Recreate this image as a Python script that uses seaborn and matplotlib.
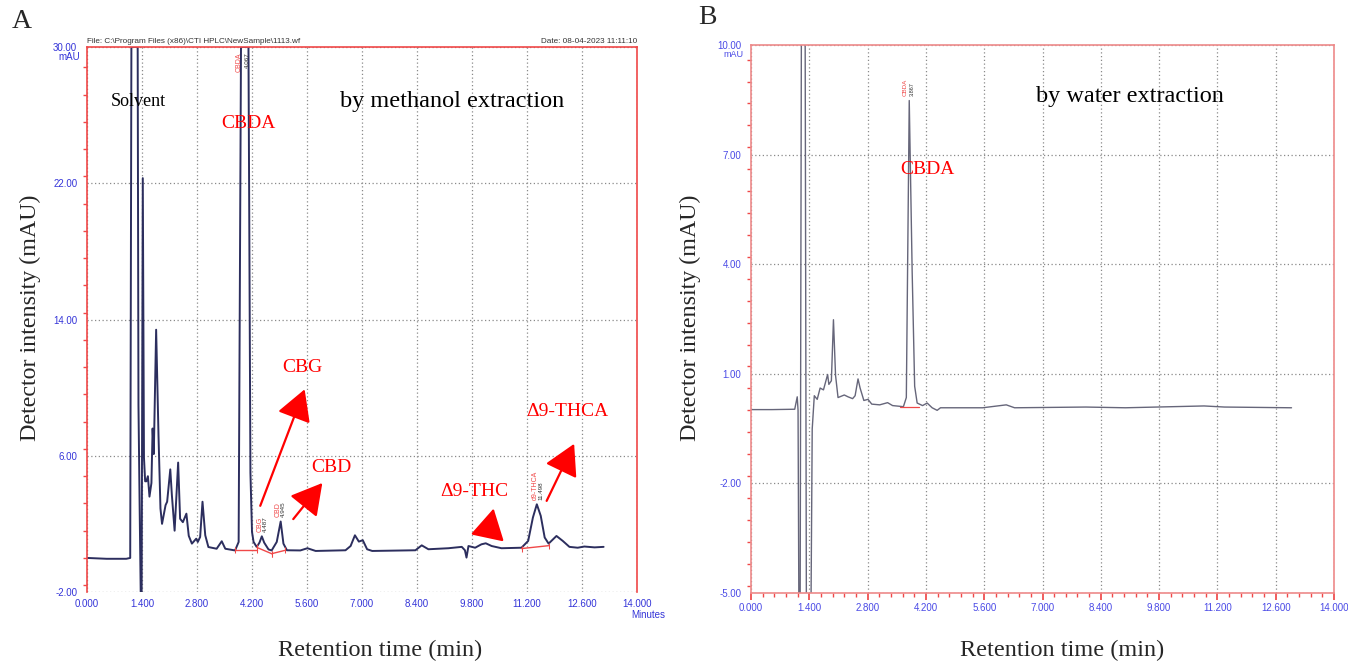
import numpy as np
import pandas as pd
import seaborn as sns
import matplotlib.pyplot as plt
from matplotlib.ticker import MultipleLocator

# Panel A: methanol extraction chromatogram (time in min, signal in mAU)
a_time = [0.00, 0.50, 1.00, 1.10, 1.13, 1.29, 1.31, 1.34, 1.37, 1.39, 1.42, 1.45, 1.48,
          1.51, 1.55, 1.59, 1.64, 1.67, 1.70, 1.76, 1.82, 1.87, 1.91, 2.00, 2.04, 2.12,
          2.16, 2.23, 2.32, 2.37, 2.44, 2.53, 2.59, 2.67, 2.78, 2.82, 2.88, 2.94, 3.01,
          3.09, 3.30, 3.43, 3.52, 3.77, 3.86, 3.92, 4.11, 4.16, 4.20, 4.24, 4.32, 4.39,
          4.45, 4.51, 4.62, 4.70, 4.83, 4.93, 5.00, 5.09, 5.43, 5.61, 5.82, 6.58, 6.71,
          6.82, 6.92, 7.02, 7.13, 7.26, 8.36, 8.52, 8.69, 9.20, 9.54, 9.62, 9.66, 9.71,
          9.88, 10.04, 10.15, 10.30, 10.55, 11.06, 11.23, 11.35, 11.45, 11.55, 11.65,
          11.75, 11.95, 12.11, 12.28, 12.49, 12.66, 12.92, 13.15]
a_signal = [0.00, -0.05, -0.05, 0.00, 30.0, 30.0, 9.0, 3.0, -2.6, -2.6, 22.3, 5.9, 4.5,
            4.5, 4.8, 3.6, 4.4, 7.6, 6.1, 13.4, 7.2, 2.9, 2.0, 3.1, 3.3, 5.2,
            3.7, 1.6, 5.6, 2.3, 2.1, 2.6, 1.3, 0.84, 1.13, 0.94, 1.23, 3.3, 1.33,
            0.64, 0.54, 0.98, 0.54, 0.44, 0.94, 30.0, 30.0, 5.0, 1.53, 0.94, 0.64, 0.90,
            1.27, 0.90, 0.50, 0.44, 0.94, 2.14, 0.84, 0.45, 0.44, 0.57, 0.41, 0.45, 0.70,
            1.33, 0.96, 1.04, 0.51, 0.41, 0.45, 0.74, 0.51, 0.57, 0.65, 0.45, 0.02, 0.70,
            0.60, 0.80, 0.86, 0.70, 0.57, 0.60, 1.00, 2.37, 3.15, 2.47, 1.20,
            0.84, 1.29, 1.00, 0.65, 0.60, 0.67, 0.62, 0.65]

# integration baselines drawn by the software (red)
a_base_time = [[3.77, 4.32], [4.32, 4.70], [4.70, 5.05], [11.06, 11.75]]
a_base_signal = [[0.45, 0.45], [0.62, 0.25], [0.25, 0.45], [0.55, 0.72]]

# Panel B: water extraction chromatogram
b_time = [0.00, 0.50, 1.05, 1.11, 1.13, 1.15, 1.18, 1.21, 1.30, 1.33, 1.44, 1.47, 1.52,
          1.59, 1.66, 1.74, 1.84, 1.87, 1.93, 1.98, 2.03, 2.09, 2.24, 2.33, 2.44, 2.50,
          2.57, 2.62, 2.71, 2.81, 2.90, 3.09, 3.28, 3.40, 3.66, 3.73, 3.80, 3.87, 3.93,
          3.99, 4.12, 4.23, 4.35, 4.47, 4.55, 4.66, 5.56, 6.13, 6.33, 8.04, 8.99, 10.88,
          11.37, 12.98]
b_signal = [0.02, 0.02, 0.03, 0.37, 0.00, -5.5, -5.5, 10.5, 10.5, -5.5, -5.5, -0.51, 0.40,
            0.30, 0.61, 0.56, 0.98, 0.71, 0.81, 2.48, 0.96, 0.35, 0.42, 0.37, 0.32, 0.40,
            0.86, 0.61, 0.27, 0.30, 0.17, 0.15, 0.21, 0.13, 0.10, 0.35, 8.48, 3.80, 0.66,
            0.20, 0.13, 0.20, 0.07, 0.00, 0.07, 0.07, 0.07, 0.15, 0.07, 0.09, 0.07, 0.12,
            0.09, 0.07]
b_base_time = [3.57, 4.04]
b_base_signal = [0.10, 0.10]

a_yticks = [-2, 6, 14, 22, 30]
b_yticks = [-5, -2, 1, 4, 7, 10]
x_ticks = [0.0, 1.4, 2.8, 4.2, 5.6, 7.0, 8.4, 9.8, 11.2, 12.6, 14.0]

sns.set_theme(style="white")
plt.rcParams['font.family'] = ['Liberation Serif', 'DejaVu Serif']

RED = "#f04848"
BLUE = "#3434d8"
SANS = ['Liberation Sans', 'DejaVu Sans']

W, H = 1348, 661
fig = plt.figure(figsize=(W / 100, H / 100), dpi=100)
axA = fig.add_axes([87 / W, 1 - 592 / H, 550 / W, 545 / H])
axB = fig.add_axes([751 / W, 1 - 593 / H, 583 / W, 548 / H])

dfA = pd.DataFrame({"time": a_time, "signal": a_signal})
dfB = pd.DataFrame({"time": b_time, "signal": b_signal})

sns.lineplot(data=dfA, x="time", y="signal", ax=axA, color="#2c2e5e", lw=1.4,
             sort=False, estimator=None)
for bt, bs in zip(a_base_time, a_base_signal):
    sns.lineplot(x=bt, y=bs, ax=axA, color=RED, lw=1.0, sort=False, estimator=None,
                 marker="|", markersize=5, markeredgecolor=RED)

sns.lineplot(data=dfB, x="time", y="signal", ax=axB, color="#66667a", lw=1.0,
             sort=False, estimator=None)
sns.lineplot(x=b_base_time, y=b_base_signal, ax=axB, color=RED, lw=0.9,
             sort=False, estimator=None)

# common axis styling
for ax, yt, ylim, ymin in [(axA, a_yticks, (-2, 30), 1.6), (axB, b_yticks, (-5, 10), 0.6)]:
    ax.set_xlim(0, 14)
    ax.set_ylim(*ylim)
    ax.set_xticks(x_ticks)
    ax.set_xticklabels([f"{t:.3f}" for t in x_ticks], fontsize=7, color=BLUE, family=SANS)
    ax.set_yticks(yt)
    ax.set_yticklabels([f"{v:.2f}" for v in yt], fontsize=7, color=BLUE, family=SANS)
    ax.yaxis.set_minor_locator(MultipleLocator(ymin))
    ax.grid(True, which="major", linestyle=(0, (1, 2)), color="#8a8a8a", lw=0.9)
    ax.set_xlabel("")
    ax.set_ylabel("")
    for s in ax.spines.values():
        s.set_color(RED)
        s.set_linewidth(1.2)
    ax.tick_params(axis="y", which="major", direction="out", length=5, color=RED, pad=2)
    ax.tick_params(axis="y", which="minor", direction="out", length=3, color=RED, left=True)

axA.spines["bottom"].set_visible(False)
axA.tick_params(axis="x", length=0, pad=5)
axB.xaxis.set_minor_locator(MultipleLocator(0.28))
axB.tick_params(axis="x", which="major", direction="out", length=5, color=RED, pad=2, bottom=True)
axB.tick_params(axis="x", which="minor", direction="out", length=3, color=RED, bottom=True)
for sp in axB.spines.values():
    sp.set_color("#ee8a8a")
for lbl in axB.get_xticklabels() + axB.get_yticklabels():
    lbl.set_color("#4a4ae6")

axA.text(-0.012, 0.982, "mAU", transform=axA.transAxes, ha="right", va="center",
         fontsize=7, color=BLUE, family=SANS)
axB.text(-0.012, 0.982, "mAU", transform=axB.transAxes, ha="right", va="center",
         fontsize=6.5, color="#4a4ae6", family=SANS)
axA.text(0.99, -0.043, "Minutes", transform=axA.transAxes, ha="left", va="center",
         fontsize=7, color=BLUE, family=SANS)
axA.text(0.0, 1.004, "File: C:\\Program Files (x86)\\CTI HPLC\\NewSample\\1113.wf",
         transform=axA.transAxes, ha="left", va="bottom", fontsize=5.9, color="#333333",
         family=SANS)
axA.text(1.0, 1.004, "Date: 08-04-2023 11:11:10", transform=axA.transAxes, ha="right",
         va="bottom", fontsize=5.9, color="#333333", family=SANS)

# software peak labels (rotated)
peak_labels_A = [("CBDA", "4.067", 3.88, 4.08, 29.7), ("CBG", "4.487", 4.40, 4.53, 1.5),
                 ("CBD", "4.945", 4.87, 5.00, 2.4), ("d9-THCA", "11.498", 11.40, 11.55, 3.4)]
for name, rt, xn, xr, y0 in peak_labels_A:
    va = "top" if y0 > 20 else "bottom"
    axA.text(xn, y0, name, rotation=90, color=RED, fontsize=5, ha="center", va=va, family=SANS)
    axA.text(xr, y0, rt, rotation=90, color="#333333", fontsize=4.5, ha="center", va=va,
             family=SANS)
axB.text(3.71, 8.6, "CBDA", rotation=90, color=RED, fontsize=4.5, ha="center", va="bottom",
         family=SANS)
axB.text(3.88, 8.6, "3.867", rotation=90, color="#333333", fontsize=4, ha="center",
         va="bottom", family=SANS)

# annotations panel A
tfs = 14
axA.text(0.60, 26.8, "Solvent", fontsize=13, color="black", va="center")
axA.text(3.42, 25.5, "CBDA", fontsize=tfs, color="red", va="center")
axA.text(6.45, 26.8, "by methanol extraction", fontsize=17.5, color="black", va="center")
axA.text(4.97, 11.2, "CBG", fontsize=tfs, color="red", va="center")
axA.text(5.72, 5.3, "CBD", fontsize=tfs, color="red", va="center")
axA.text(8.98, 3.9, "Δ9-THC", fontsize=tfs, color="red", va="center")
axA.text(11.17, 8.6, "Δ9-THCA", fontsize=tfs, color="red", va="center")

arrows = [((4.41, 3.06), (5.54, 9.9)), ((5.25, 2.28), (5.99, 4.4)),
          ((10.2, 1.29), (10.35, 2.9)), ((11.7, 3.35), (12.4, 6.7))]
for start, tip in arrows:
    axA.annotate("", xy=tip, xytext=start,
                 arrowprops=dict(arrowstyle="-|>,head_length=0.8,head_width=0.45",
                                 color="red", lw=1.6, mutation_scale=24,
                                 shrinkA=0, shrinkB=0))

# annotations panel B
axB.text(6.85, 8.58, "by water extraction", fontsize=17.5, color="black", va="center")
axB.text(3.58, 6.6, "CBDA", fontsize=tfs, color="red", va="center")

# figure labels
fig.text(22 / W, 1 - 22 / H, "A", fontsize=20, ha="center", va="center")
fig.text(707 / W, 1 - 18 / H, "B", fontsize=20, ha="center", va="center")
fig.text(30 / W, 1 - 318 / H, "Detector intensity (mAU)", fontsize=17.3, rotation=90,
         ha="center", va="center")
fig.text(690 / W, 1 - 318 / H, "Detector intensity (mAU)", fontsize=17.3, rotation=90,
         ha="center", va="center")
fig.text(380 / W, 1 - 650 / H, "Retention time (min)", fontsize=17.5, ha="center", va="center")
fig.text(1062 / W, 1 - 650 / H, "Retention time (min)", fontsize=17.5, ha="center", va="center")

fig.savefig("out.png", dpi=100)
